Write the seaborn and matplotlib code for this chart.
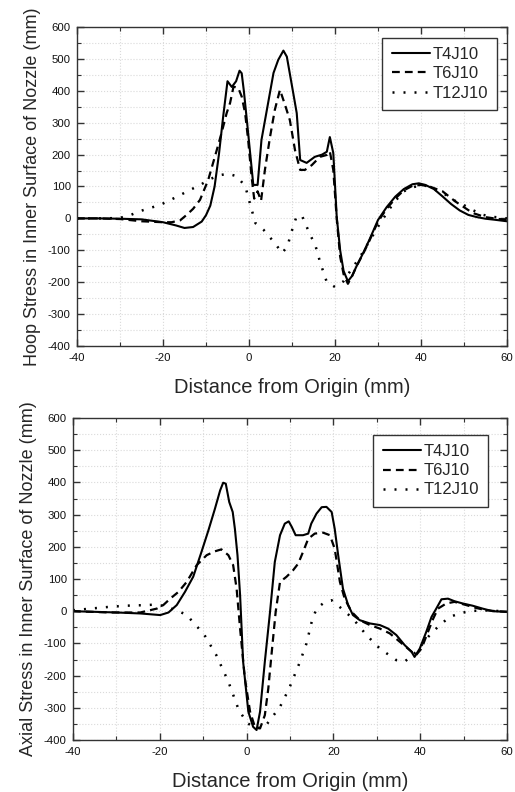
import numpy as np
import pandas as pd
import matplotlib
matplotlib.use("Agg")
import matplotlib.pyplot as plt
from matplotlib.ticker import MultipleLocator
import seaborn as sns

# ---------------- data ----------------
series_names = ["T4J10", "T6J10", "T12J10"]

# Hoop stress (top panel)
hoop_t4_x = [-40, -35, -30, -25, -20, -17, -15, -13, -11, -10, -9, -8, -7, -6, -5,
             -4, -3, -2.2, -1.7, -1.2, -0.5, 0.5, 1, 2, 2.9, 4.5, 5.7, 6.8, 8, 8.8,
             10.3, 11.1, 11.9, 13.4, 15.3, 17, 18.1, 18.8, 19.6, 20.4, 21.2, 22, 23, 24, 25,
             26.5, 28, 30, 32, 34, 36, 38, 39.5, 41, 43, 45, 47, 49, 51, 53, 55, 57, 60]
hoop_t4_y = [0, 0, -1, -3, -12, -22, -30, -27, -10, 10, 40, 100, 200, 320, 430,
             412, 430, 463, 455, 400, 308, 173, 105, 105, 246, 366, 456, 497, 526, 507,
             392, 330, 183, 174, 193, 200, 209, 255, 205, 5, -100, -165, -197, -180, -150,
             -110, -67, -5, 35, 68, 92, 107, 110, 105, 92, 69, 45, 25, 11, 4, -1, -4, -9]

hoop_t6_x = [-40, -35, -30, -25, -20, -18, -16, -14.5, -13, -11.4, -9.5, -7.5, -6.4, -5.2, -4.4,
             -3.6, -2.5, -1.7, -0.9, -0.2, 0.6, 1.2, 2.0, 2.8, 3.7, 4.9, 6, 7.2, 8.4, 9.5,
             10.7, 11.9, 13, 14.6, 16.5, 18.1, 18.8, 19.6, 20.4, 21.2, 22, 23, 24, 25, 26.5,
             28, 30, 32, 34, 36, 38, 40, 42, 45, 48, 50, 52, 55, 57, 60]
hoop_t6_y = [0, 0, -2, -9, -12, -12, -6, 11, 30, 58, 120, 214, 267, 330, 362,
             413, 409, 382, 330, 246, 131, 62, 85, 55, 152, 256, 340, 403, 355, 308,
             214, 152, 152, 167, 193, 199, 210, 152, 0, -120, -175, -205, -180, -150, -112,
             -70, -10, 30, 62, 88, 102, 105, 100, 85, 53, 35, 17, 4, 0, -5]

hoop_t12_x = [-40, -35, -30.3, -28, -25.5, -23.2, -20.9, -19, -16.6, -13.6, -11.3, -9.4, -7, -4.9, -2.8,
              -0.85, 0.3, 1.5, 3.4, 6.1, 7.7, 9, 9.6, 11, 12.3, 14.2, 15.4, 16.6, 18.1, 20,
              22, 23.5, 25.9, 28.2, 30.5, 33.6, 36, 38.2, 40.6, 42.9, 45.2, 47.5, 49.8, 52.2, 54.5,
              56, 60]
hoop_t12_y = [0, 0, 1, 8, 22, 32, 41, 53, 69, 90, 105, 121, 135, 140, 132,
              100, 43, -15, -36, -79, -109, -86, -54, 4, 9, -51, -83, -140, -200, -215,
              -197, -166, -119, -67, -15, 48, 85, 98, 105, 92, 79, 58, 43, 25, 11,
              6, 0]

# Axial stress (bottom panel)
axial_t4_x = [-40, -29.9, -24.5, -19.9, -18, -16.1, -14.2, -12.3, -10.4, -8.8,
              -7.3, -6.1, -5.4, -4.8, -4, -3.2, -2.7, -2.1, -1.5, -0.8,
              0.4, 1.5, 2.3, 3.1, 4.2, 5.4, 6.5, 7.7, 8.8, 9.7,
              10.4, 11.3, 13, 14.2, 14.9, 16.1, 17.3, 18.4, 19.6, 20.3,
              21.1, 22.2, 23.4, 24.5, 26.1, 28.4, 30.7, 32.6, 34.5, 36.4,
              38, 38.7, 39.9, 41.4, 42.6, 43.7, 44.9, 46.4, 47.9, 49.8,
              52.1, 54.4, 56.7, 60]
axial_t4_y = [0, -4, -7, -12, -4, 19, 60, 107, 184, 251,
              318, 375, 399, 396, 339, 308, 256, 174, 50, -157,
              -312, -359, -369, -312, -157, -2, 153, 236, 272, 279,
              262, 236, 236, 241, 272, 303, 323, 324, 308, 256,
              174, 70, 19, -12, -28, -38, -43, -54, -74, -105,
              -126, -142, -116, -64, -18, 8, 37, 39, 31, 24,
              17, 8, 0, -2]

axial_t6_x = [-40, -31.4, -24.5, -20.7, -19.2, -17.6, -15.7, -13.8, -11.5, -9.2,
              -7.3, -5.8, -4.2, -3.1, -2.3, -1.5, -0.4, 0.8, 1.9, 3.1,
              4.2, 5, 5.8, 6.7, 7.7, 9.2, 10.7, 11.9, 13, 14.2,
              15.7, 17.6, 19.2, 20.3, 21.5, 22.6, 24.2, 26.1, 28.4, 30.7,
              33, 35.3, 37.6, 39, 40.3, 41.8, 43, 44.1, 46, 47.9,
              50.6, 52.9, 55.2, 57.5, 60]
axial_t6_y = [0, -4, -4, 8, 19, 39, 60, 91, 143, 174,
              186, 192, 174, 143, 70, -54, -209, -312, -359, -364,
              -323, -240, -126, -2, 91, 107, 127, 148, 184, 225,
              241, 244, 236, 194, 91, 39, -2, -28, -43, -54,
              -69, -95, -121, -137, -116, -64, -23, 8, 24, 29,
              19, 10, 3, 0, -2]

axial_t12_x = [-40, -36, -32, -28, -23, -20.5, -16.1, -13.8, -9.8, -7, -4.2,
               -1.8, 0.2, 2.3, 4.2, 7.7, 9.8, 12.3, 13.8, 15, 16.1,
               17.6, 19.6, 21.9, 24.5, 27.6, 30.7, 34.5, 36.4, 39.1, 42.2,
               44.5, 46.8, 49, 51.4, 54.4, 57, 60]
axial_t12_y = [3, 8, 13, 17, 19, 21, 3, -12, -72, -136, -219,
               -307, -348, -364, -359, -297, -240, -157, -100, -33, 8,
               24, 34, 8, -23, -74, -116, -152, -157, -126, -74,
               -43, -18, -7, 0, 3, 1, 0]

x_ticks = [-40, -20, 0, 20, 40, 60]
y_ticks = [-400, -300, -200, -100, 0, 100, 200, 300, 400, 500, 600]
x_label = "Distance from Origin (mm)"
top_ylabel = "Hoop Stress in Inner Surface of Nozzle (mm)"
bottom_ylabel = "Axial Stress in Inner Surface of Nozzle (mm)"

# ---------------- style ----------------
sns.set_style("ticks")
plt.rcParams["font.family"] = ["Liberation Sans", "DejaVu Sans"]
plt.rcParams["axes.unicode_minus"] = False

fig = plt.figure(figsize=(5.15, 7.92), dpi=100)
ax_top = fig.add_axes([77 / 515, 1 - 346 / 792, 430 / 515, 319 / 792])
ax_bot = fig.add_axes([73 / 515, 1 - 740 / 792, 434 / 515, 322 / 792])

styles = [
    dict(linestyle="-", linewidth=1.5),
    dict(linestyle=(0, (3.5, 2.3)), linewidth=1.6),
    dict(linestyle=(0, (0.8, 3.6)), linewidth=1.8),
]


def draw(ax, xs, ys, ylabel, legend_anchor):
    for name, x, y, st in zip(series_names, xs, ys, styles):
        assert len(x) == len(y), name
        df = pd.DataFrame({"x": x, "y": y})
        sns.lineplot(data=df, x="x", y="y", ax=ax, color="black", sort=False,
                     estimator=None, label=name, legend=False, **st)
    ax.set_xlim(-40, 60)
    ax.set_ylim(-400, 600)
    ax.set_xticks(x_ticks)
    ax.set_yticks(y_ticks)
    ax.xaxis.set_minor_locator(MultipleLocator(10))
    ax.yaxis.set_minor_locator(MultipleLocator(50))
    ax.grid(True, which="both", color="#dadada", linestyle=":", linewidth=0.8)
    ax.set_axisbelow(True)
    ax.tick_params(which="both", direction="in", top=True, right=True,
                   colors="#333333", labelcolor="#111111", labelsize=8.2)
    ax.tick_params(which="major", length=5, width=1)
    ax.tick_params(which="minor", length=3, width=0.8)
    ax.tick_params(axis="x", which="major", pad=5)
    ax.tick_params(axis="y", which="major", pad=4.5)
    for sp in ax.spines.values():
        sp.set_color("#333333")
        sp.set_linewidth(1.0)
    ax.set_xlabel(x_label, fontsize=14.5, labelpad=11)
    ax.set_ylabel(ylabel, fontsize=13, labelpad=5)
    leg = ax.legend(loc="upper right", bbox_to_anchor=legend_anchor, borderaxespad=0,
                    fontsize=12, frameon=True, fancybox=False, framealpha=1,
                    edgecolor="#333333", handlelength=2.3, handletextpad=0.15,
                    labelspacing=0.25, borderpad=0.55)
    leg.get_frame().set_linewidth(1.0)


draw(ax_top, [hoop_t4_x, hoop_t6_x, hoop_t12_x], [hoop_t4_y, hoop_t6_y, hoop_t12_y],
     top_ylabel, ((497 - 77) / 430, 1 - (38 - 27) / 319))
draw(ax_bot, [axial_t4_x, axial_t6_x, axial_t12_x], [axial_t4_y, axial_t6_y, axial_t12_y],
     bottom_ylabel, ((488 - 73) / 434, 1 - (435 - 418) / 322))

fig.savefig("out.png", dpi=100)
